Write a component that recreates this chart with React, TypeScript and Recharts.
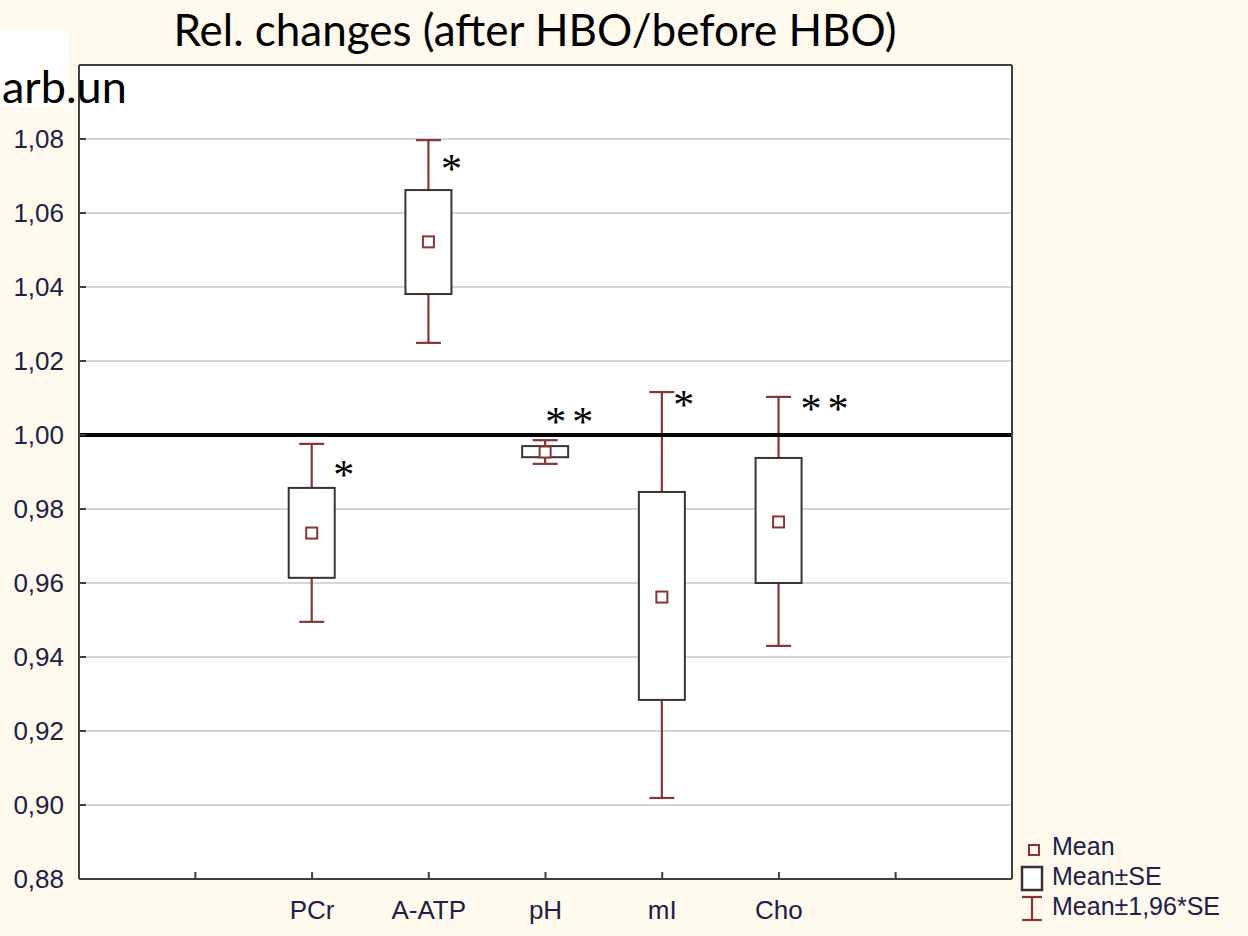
import { ComposedChart, Bar, XAxis, YAxis, CartesianGrid, ReferenceLine, Legend } from 'recharts';

// values
const categories = ['PCr', 'A-ATP', 'pH', 'mI', 'Cho'];
const means = [0.9735, 1.0522, 0.9954, 0.9562, 0.9765];
const seLow = [0.9614, 1.0381, 0.994, 0.9284, 0.96];
const seHigh = [0.9857, 1.0662, 0.997, 0.9846, 0.9938];
const ciLow = [0.9495, 1.0249, 0.9922, 0.9019, 0.943];
const ciHigh = [0.9976, 1.0797, 0.9986, 1.0116, 1.0103];
const stars = ['*', '*', '**', '*', '**'];
const yTicks = [0.88, 0.9, 0.92, 0.94, 0.96, 0.98, 1.0, 1.02, 1.04, 1.06, 1.08];

// star placement relative to the upper whisker end (px)
const starOffsets = [
  [35, 25],
  [26, 23],
  [27, -24],
  [25, 7],
  [49, 6],
];

const rows = [
  { cat: '_a' },
  ...categories.map((c, i) => ({
    cat: c,
    i,
    mean: means[i],
    seLow: seLow[i],
    seHigh: seHigh[i],
    ciLow: ciLow[i],
    ciHigh: ciHigh[i],
    star: stars[i],
  })),
  { cat: '_b' },
];

const WHISKER = '#8a3535';
const BOX = '#3b3333';
const AXIS = '#404040';
const TEXT = '#1e2046';

function BoxShape(props: any) {
  const { x, y, width, height, payload } = props;
  if (!payload || payload.ciHigh == null || height == null) return null;
  const top = Math.min(y, y + height);
  const h = Math.abs(height);
  const span = payload.ciHigh - payload.ciLow;
  const py = (v: number) => top + ((payload.ciHigh - v) / span) * h;
  const cx = x + width / 2;
  const cap = 12.5;
  const m = 5.5;
  const [dx, dy] = starOffsets[payload.i];
  const fs = 42;
  return (
    <g>
      <line x1={cx} x2={cx} y1={py(payload.ciHigh)} y2={py(payload.seHigh)} stroke={WHISKER} strokeWidth={2.2} />
      <line x1={cx - cap} x2={cx + cap} y1={py(payload.ciHigh)} y2={py(payload.ciHigh)} stroke={WHISKER} strokeWidth={2.2} />
      <line x1={cx} x2={cx} y1={py(payload.seLow)} y2={py(payload.ciLow)} stroke={WHISKER} strokeWidth={2.2} />
      <line x1={cx - cap} x2={cx + cap} y1={py(payload.ciLow)} y2={py(payload.ciLow)} stroke={WHISKER} strokeWidth={2.2} />
      <rect
        x={x}
        y={py(payload.seHigh)}
        width={width}
        height={py(payload.seLow) - py(payload.seHigh)}
        fill="#fff"
        stroke={BOX}
        strokeWidth={2}
      />
      <rect x={cx - m} y={py(payload.mean) - m} width={m * 2} height={m * 2} fill="#fff" stroke={WHISKER} strokeWidth={2} />
      <text
        x={cx + dx}
        y={py(payload.ciHigh) + dy + fs * 0.47}
        textAnchor="middle"
        fontFamily="Liberation Serif"
        fontSize={fs}
        letterSpacing={6}
        fill="#000"
      >
        {payload.star}
      </text>
    </g>
  );
}

function LegendBox() {
  const t = { fontFamily: 'Liberation Sans', fontSize: 25, fill: TEXT };
  return (
    <svg width={230} height={100}>
      <rect x={11} y={13} width={10} height={10} fill="none" stroke={WHISKER} strokeWidth={2} />
      <text x={34} y={23} {...t}>Mean</text>
      <rect x={4} y={35} width={20} height={23} fill="#fff" stroke={BOX} strokeWidth={2.5} />
      <text x={34} y={53} {...t}>Mean±SE</text>
      <line x1={14} x2={14} y1={65} y2={88} stroke={WHISKER} strokeWidth={2.2} />
      <line x1={4} x2={24} y1={65} y2={65} stroke={WHISKER} strokeWidth={2.2} />
      <line x1={4} x2={24} y1={88} y2={88} stroke={WHISKER} strokeWidth={2.2} />
      <text x={34} y={83} {...t}>Mean±1,96*SE</text>
    </svg>
  );
}

const fmt = (v: number) => v.toFixed(2).replace('.', ',');

export default function App() {
  return (
    <div style={{ position: 'absolute', left: 0, top: 0, width: 1248, height: 936, background: '#FFF9EE' }}>
      <ComposedChart width={1248} height={936} data={rows} margin={{ top: 64, right: 235, bottom: 0, left: 0 }}>
        <CartesianGrid vertical={false} stroke="#d6d6d6" strokeWidth={2} fill="#fff" fillOpacity={1} />
        <XAxis
          dataKey="cat"
          interval={0}
          height={57}
          padding={{ left: 58, right: 58 }}
          tickFormatter={(v: string) => (v.startsWith('_') ? '' : v)}
          tickSize={-7}
          tickMargin={29}
          tick={{ fontFamily: 'Liberation Sans', fontSize: 26, fill: TEXT }}
          axisLine={{ stroke: AXIS, strokeWidth: 2 }}
          tickLine={{ stroke: AXIS, strokeWidth: 2 }}
        />
        <XAxis
          xAxisId="top"
          orientation="top"
          dataKey="cat"
          interval={0}
          height={1}
          padding={{ left: 58, right: 58 }}
          tick={false}
          tickSize={-7}
          axisLine={{ stroke: AXIS, strokeWidth: 2 }}
          tickLine={{ stroke: AXIS, strokeWidth: 2 }}
        />
        <YAxis
          type="number"
          domain={[0.88, 1.1]}
          ticks={yTicks}
          interval={0}
          width={79}
          allowDataOverflow
          tickFormatter={fmt}
          tickSize={-7}
          tickMargin={22}
          tick={{ fontFamily: 'Liberation Sans', fontSize: 26, fill: TEXT }}
          axisLine={{ stroke: AXIS, strokeWidth: 2 }}
          tickLine={{ stroke: AXIS, strokeWidth: 2 }}
        />
        <YAxis
          yAxisId="r"
          orientation="right"
          type="number"
          domain={[0.88, 1.1]}
          ticks={yTicks}
          interval={0}
          width={1}
          allowDataOverflow
          tick={false}
          tickSize={-7}
          axisLine={{ stroke: AXIS, strokeWidth: 2 }}
          tickLine={{ stroke: AXIS, strokeWidth: 2 }}
        />
        <Bar
          dataKey={(d: any) => (d.ciLow == null ? null : [d.ciLow, d.ciHigh])}
          barSize={46}
          shape={BoxShape}
          isAnimationActive={false}
        />
        <ReferenceLine y={1} stroke="#000" strokeWidth={4} />
        <Legend
          layout="horizontal"
          verticalAlign="middle"
          align="center"
          content={() => <LegendBox />}
          wrapperStyle={{ position: 'absolute', left: 1018, top: 832, width: 230, height: 100 }}
        />
      </ComposedChart>
      <svg width={1248} height={936} style={{ position: 'absolute', left: 0, top: 0, pointerEvents: 'none' }}>
        <rect x={0} y={31} width={68} height={75} fill="#fff" />
        <text x={535} y={46} textAnchor="middle" fontFamily="Lato" fontSize={44} fill="#000">
          Rel. changes (after HBO/before HBO)
        </text>
        <text x={2} y={103} fontFamily="Lato" fontSize={45} fill="#000">
          arb.un
        </text>
      </svg>
    </div>
  );
}
